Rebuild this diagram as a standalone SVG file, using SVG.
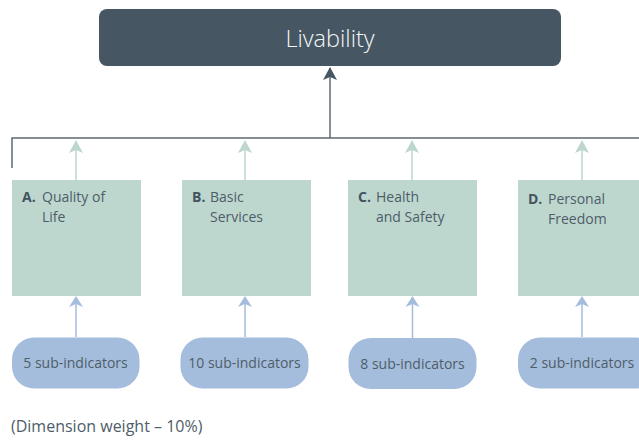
<svg xmlns="http://www.w3.org/2000/svg" width="639" height="440" viewBox="0 0 639 440">
<style>
.dim{fill:#bdd7ce}
.pill{fill:#a5bddc}
.lab{font-family:"Open Sans","Noto Sans",sans-serif;font-size:14px;fill:#4e5d69}
.b{font-weight:bold;fill:#43535f}
.pt{font-family:"Open Sans","Noto Sans",sans-serif;font-size:14px;fill:#4e5d69;text-anchor:middle}
.g{stroke:#bdd7ce;stroke-width:1.5;fill:none}
.bl{stroke:#a5bddc;stroke-width:1.5;fill:none}
</style>
<g id="livability">
<rect x="99" y="9" width="462" height="57" rx="8" fill="#465663"/>
<text x="330" y="47" text-anchor="middle" font-family="Open Sans, Noto Sans, sans-serif" font-size="23.5" fill="#f4f6f7" font-weight="300">Livability</text>
</g>
<g id="connectors">
<path d="M12,168 V138 H639" stroke="#5d6a74" stroke-width="1.5" fill="none"/>
<path d="M330,138 V68" stroke="#5d6a74" stroke-width="1.5" fill="none"/>
<path d="M323,80 L330,67 L337,80 L330,77 Z" fill="#465663"/>
<g class="g">
<path d="M76,180 V142"/><path d="M245,180 V142"/><path d="M412,180 V142"/><path d="M582,180 V142"/>
</g>
<g fill="#bdd7ce">
<path d="M69,153 L76,140 L83,153 L76,150 Z"/>
<path d="M238,153 L245,140 L252,153 L245,150 Z"/>
<path d="M405,153 L412,140 L419,153 L412,150 Z"/>
<path d="M575,153 L582,140 L589,153 L582,150 Z"/>
</g>
<g class="bl">
<path d="M76,337 V298"/><path d="M245,337 V298"/><path d="M412.5,338 V298"/><path d="M582,337 V298"/>
</g>
<g fill="#a5bddc">
<path d="M69,307 L76,296 L83,307 L76,304 Z"/>
<path d="M238,307 L245,296 L252,307 L245,304 Z"/>
<path d="M405.5,307 L412.5,296 L419.5,307 L412.5,304 Z"/>
<path d="M575,307 L582,296 L589,307 L582,304 Z"/>
</g>
</g>
<g id="dimA">
<rect class="dim" x="12" y="180" width="129" height="116"/>
<text class="lab" x="22" y="202"><tspan class="b">A.</tspan><tspan x="42">Quality of</tspan></text>
<text class="lab" x="42" y="222">Life</text>
</g>
<g id="dimB">
<rect class="dim" x="182" y="180" width="129" height="116"/>
<text class="lab" x="192" y="202"><tspan class="b">B.</tspan><tspan x="210">Basic</tspan></text>
<text class="lab" x="210" y="222">Services</text>
</g>
<g id="dimC">
<rect class="dim" x="348" y="180" width="129" height="116"/>
<text class="lab" x="358" y="202"><tspan class="b">C.</tspan><tspan x="376">Health</tspan></text>
<text class="lab" x="376" y="222">and Safety</text>
</g>
<g id="dimD">
<rect class="dim" x="518" y="180" width="130" height="116"/>
<text class="lab" x="528" y="204"><tspan class="b">D.</tspan><tspan x="548">Personal</tspan></text>
<text class="lab" x="548" y="224">Freedom</text>
</g>
<g id="subA">
<rect class="pill" x="12" y="337.5" width="127.5" height="51" rx="22"/>
<text class="pt" x="75.5" y="368">5 sub-indicators</text>
</g>
<g id="subB">
<rect class="pill" x="180.5" y="337.5" width="128" height="51" rx="22"/>
<text class="pt" x="244.5" y="368">10 sub-indicators</text>
</g>
<g id="subC">
<rect class="pill" x="348.5" y="338" width="128" height="51" rx="22"/>
<text class="pt" x="412.5" y="369">8 sub-indicators</text>
</g>
<g id="subD">
<rect class="pill" x="518" y="337.5" width="140" height="51" rx="22"/>
<text class="pt" x="582" y="368">2 sub-indicators</text>
</g>
<text x="11" y="432" font-family="Open Sans, Noto Sans, sans-serif" font-size="16" fill="#4e5d69">(Dimension weight – 10%)</text>
</svg>
